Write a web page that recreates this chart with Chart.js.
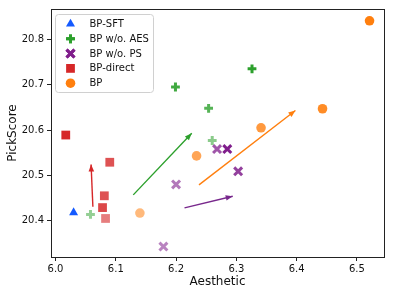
<!DOCTYPE html>
<html><head><meta charset="utf-8">
<script src="https://cdn.jsdelivr.net/npm/chart.js@4/dist/chart.umd.min.js"></script>
<style>html,body{margin:0;padding:0;background:#fff}#wrap{width:399px;height:292px;position:relative}</style>
</head><body><div id="wrap"><canvas id="c" width="399" height="292"></canvas></div>
<script>
// ---- data ----
const xTicks = [6.0, 6.1, 6.2, 6.3, 6.4, 6.5];
const yTicks = [20.4, 20.5, 20.6, 20.7, 20.8];

const sftAes = [6.030];
const sftPick = [20.418];

const noAesAes = [6.058, 6.260, 6.254, 6.199, 6.326];
const noAesPick = [20.414, 20.577, 20.648, 20.695, 20.735];

const noPsAes = [6.179, 6.200, 6.268, 6.303, 6.285];
const noPsPick = [20.343, 20.480, 20.558, 20.509, 20.558];

const directAes = [6.083, 6.078, 6.081, 6.090, 6.017];
const directPick = [20.405, 20.429, 20.455, 20.529, 20.589];

const bpAes = [6.140, 6.234, 6.341, 6.443, 6.521];
const bpPick = [20.417, 20.543, 20.605, 20.647, 20.841];

// arrows: [start, end]
const arrowDirectAes = [6.062, 6.059];
const arrowDirectPick = [20.431, 20.524];
const arrowNoAesAes = [6.129, 6.226];
const arrowNoAesPick = [20.457, 20.593];
const arrowNoPsAes = [6.214, 6.294];
const arrowNoPsPick = [20.4285, 20.454];
const arrowBpAes = [6.238, 6.398];
const arrowBpPick = [20.479, 20.643];

// ---- styles ----
const C = {
  blue: [20, 90, 255],
  green: [44, 160, 44],
  purple: [128, 30, 140],
  red: [214, 39, 40],
  orange: [255, 127, 14]
};
const alphaNoAes = [0.5, 0.55, 0.8, 0.9, 1.0];
const alphaNoPs = [0.55, 0.6, 0.75, 0.85, 1.0];
const alphaDirect = [0.6, 0.85, 0.8, 0.8, 1.0];
const alphaBp = [0.55, 0.7, 0.8, 0.9, 1.0];
const rgba = (c, a) => `rgba(${c[0]},${c[1]},${c[2]},${a})`;
const pts = (xs, ys) => xs.map((x, i) => ({x: x, y: ys[i]}));

function markerSet(label, xs, ys, col, alphas, style, r, bw) {
  const cols = xs.map((_, i) => rgba(col, alphas ? alphas[i] : 1));
  return {
    label, data: pts(xs, ys), pointStyle: style, pointRadius: r, pointHoverRadius: r,
    backgroundColor: cols, borderColor: bw ? cols : 'rgba(0,0,0,0)', pointBorderWidth: bw || 0,
    borderWidth: bw || 0, legendColor: rgba(col, 1), order: 1
  };
}
function arrowSet(xs, ys, col) {
  return {
    label: '', isArrow: true, data: pts(xs, ys), showLine: true, pointRadius: 0, pointHoverRadius: 0,
    borderColor: rgba(col, 1), backgroundColor: rgba(col, 1), borderWidth: 1.4, order: 2
  };
}

const datasets = [
  markerSet('BP-SFT', sftAes, sftPick, C.blue, null, 'triangle', 5.2, 0),
  markerSet('BP w/o. AES', noAesAes, noAesPick, C.green, alphaNoAes, 'cross', 4.4, 3),
  markerSet('BP w/o. PS', noPsAes, noPsPick, C.purple, alphaNoPs, 'crossRot', 5.6, 3),
  markerSet('BP-direct', directAes, directPick, C.red, alphaDirect, 'rect', 6.2, 0),
  markerSet('BP', bpAes, bpPick, C.orange, alphaBp, 'circle', 4.8, 0),
  arrowSet(arrowDirectAes, arrowDirectPick, C.red),
  arrowSet(arrowNoAesAes, arrowNoAesPick, C.green),
  arrowSet(arrowNoPsAes, arrowNoPsPick, [120, 40, 140]),
  arrowSet(arrowBpAes, arrowBpPick, C.orange)
];

const FONT = 'DejaVu Sans';

const framePlugin = {
  id: 'frame',
  afterDatasetsDraw(chart) {
    const ctx = chart.ctx, a = chart.chartArea;
    ctx.save();
    // arrow heads
    chart.data.datasets.forEach((ds, i) => {
      if (!ds.isArrow) return;
      const meta = chart.getDatasetMeta(i);
      const p0 = meta.data[0], p1 = meta.data[meta.data.length - 1];
      const ang = Math.atan2(p1.y - p0.y, p1.x - p0.x);
      const L = 7, W = 2.8;
      ctx.fillStyle = ds.borderColor;
      ctx.beginPath();
      ctx.moveTo(p1.x, p1.y);
      ctx.lineTo(p1.x - L * Math.cos(ang) + W * Math.sin(ang), p1.y - L * Math.sin(ang) - W * Math.cos(ang));
      ctx.lineTo(p1.x - L * Math.cos(ang) - W * Math.sin(ang), p1.y - L * Math.sin(ang) + W * Math.cos(ang));
      ctx.closePath();
      ctx.fill();
    });
    // frame
    ctx.strokeStyle = '#222';
    ctx.lineWidth = 1;
    ctx.strokeRect(Math.round(a.left) + 0.5, Math.round(a.top) + 0.5, Math.round(a.right - a.left), Math.round(a.bottom - a.top));
    // legend
    const bx = a.left + 4.5, by = a.top + 5.5, bw = 98, bh = 78;
    ctx.fillStyle = 'rgba(255,255,255,0.85)';
    ctx.strokeStyle = '#d0d0d0';
    ctx.lineWidth = 1;
    ctx.beginPath();
    ctx.roundRect(bx, by, bw, bh, 3);
    ctx.fill();
    ctx.stroke();
    const items = chart.data.datasets.filter(d => !d.isArrow);
    ctx.font = '10px "' + FONT + '"';
    ctx.textBaseline = 'middle';
    items.forEach((d, k) => {
      const y = by + 9.5 + k * 14.8;
      const mx = bx + 15;
      ctx.fillStyle = d.legendColor;
      ctx.strokeStyle = d.legendColor;
      ctx.lineWidth = d.pointBorderWidth || 1;
      Chart.helpers.drawPoint(ctx, {pointStyle: d.pointStyle, radius: d.pointRadius, rotation: 0, borderWidth: d.pointBorderWidth}, mx, y);
      if (d.pointStyle === 'cross' || d.pointStyle === 'crossRot') ctx.stroke();
      ctx.fillStyle = '#111';
      ctx.fillText(d.label, bx + 34, y + 0.5);
    });
    ctx.restore();
  }
};

new Chart(document.getElementById('c'), {
  type: 'scatter',
  data: {datasets},
  plugins: [framePlugin],
  options: {
    responsive: false,
    animation: false,
    devicePixelRatio: 1,
    layout: {padding: {left: 0, top: 7, right: 15, bottom: 0}},
    plugins: {legend: {display: false}, tooltip: {enabled: false}},
    elements: {line: {tension: 0}},
    scales: {
      x: {
        type: 'linear', min: 5.9925, max: 6.545,
        afterBuildTicks: s => { s.ticks = xTicks.map(v => ({value: v})); },
        afterFit: s => { s.height = 35; },
        border: {display: false},
        grid: {drawOnChartArea: false, drawTicks: true, tickLength: 4, color: '#222', tickWidth: 1},
        ticks: {color: '#111', font: {family: FONT, size: 10}, padding: 2, maxRotation: 0, callback: v => Number(v).toFixed(1)},
        title: {display: true, text: 'Aesthetic', color: '#111', font: {family: FONT, size: 12}, padding: {top: 0, bottom: 3}}
      },
      y: {
        type: 'linear', min: 20.32, max: 20.867,
        afterBuildTicks: s => { s.ticks = yTicks.map(v => ({value: v})); },
        afterFit: s => { s.width = 51; },
        border: {display: false},
        grid: {drawOnChartArea: false, drawTicks: true, tickLength: 4, color: '#222', tickWidth: 1},
        ticks: {color: '#111', font: {family: FONT, size: 10}, padding: 3, callback: v => Number(v).toFixed(1)},
        title: {display: true, text: 'PickScore', color: '#111', font: {family: FONT, size: 12}, padding: {top: 5.5, bottom: 0}}
      }
    }
  }
});
</script>
</body></html>
